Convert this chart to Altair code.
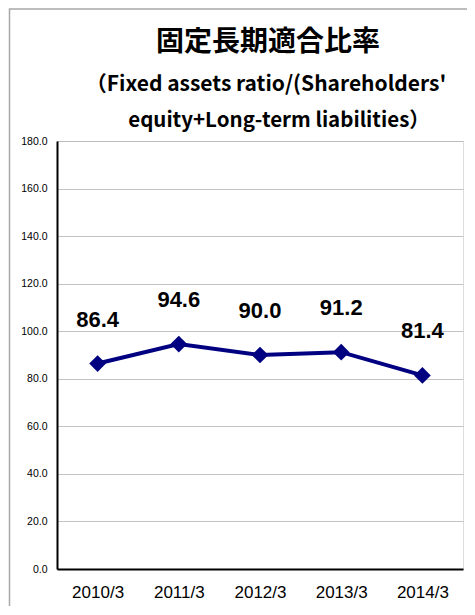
import altair as alt
import pandas as pd

PERIODS = ["2010/3", "2011/3", "2012/3", "2013/3", "2014/3"]
RATIOS = [86.4, 94.6, 90.0, 91.2, 81.4]
Y_TICKS = [0, 20, 40, 60, 80, 100, 120, 140, 160, 180]
TITLE = "固定長期適合比率"
SUBTITLE_LINES = ["（Fixed assets ratio/(Shareholders'", "equity+Long-term liabilities）"]

W, H = 406, 428
NAVY = "#000080"
SANS = "Liberation Sans, Arial, sans-serif"

df = pd.DataFrame({"period": PERIODS, "ratio": RATIOS})
one = pd.DataFrame({"k": [0]})

x = alt.X("period:N", sort=PERIODS, title=None,
          scale=alt.Scale(paddingInner=1, paddingOuter=0.5),
          axis=alt.Axis(labelAngle=0, labelFont=SANS, labelFontSize=17,
                        labelColor="#000", labelPadding=15, ticks=False,
                        domainColor="#000", domainWidth=2, grid=False))
y = alt.Y("ratio:Q", title=None,
          scale=alt.Scale(domain=[0, 180], nice=False, zero=True),
          axis=alt.Axis(values=Y_TICKS, format=".1f", labelFont=SANS,
                        labelFontSize=10.5, labelColor="#000", labelPadding=10, ticks=False,
                        domainColor="#000", domainWidth=2, grid=True,
                        gridColor="#b4b4b4", gridWidth=0.8))

frame = alt.Chart(one).mark_rect(fill=None, stroke="#a8a8a8", strokeWidth=1.5).encode(
    x=alt.value(-47.5), x2=alt.value(W + 30), y=alt.value(-132), y2=alt.value(H + 80))

line = alt.Chart(df).mark_line(color=NAVY, strokeWidth=4).encode(x=x, y=y)
pts = alt.Chart(df).mark_point(shape="diamond", filled=True, color=NAVY, size=280, opacity=1).encode(x=x, y=y)
labels = alt.Chart(df).mark_text(font=SANS, fontWeight="bold", fontSize=22,
                                 color="#000", dy=-44, baseline="middle").encode(
    x=x, y=y, text=alt.Text("ratio:Q", format=".1f"))

title = alt.Chart(one).mark_text(text=TITLE, font="Noto Sans CJK JP", fontWeight="bold",
                                 fontSize=28, color="#000", baseline="middle").encode(
    x=alt.value(211), y=alt.value(-98))
sub1 = alt.Chart(one).mark_text(text=SUBTITLE_LINES[0], font="Noto Sans CJK JP", fontWeight="bold",
                                fontSize=21, color="#000", baseline="middle").encode(
    x=alt.value(209), y=alt.value(-56))
sub2 = alt.Chart(one).mark_text(text=SUBTITLE_LINES[1], font="Noto Sans CJK JP", fontWeight="bold",
                                fontSize=20.5, color="#000", baseline="middle").encode(
    x=alt.value(222), y=alt.value(-20))

chart = alt.layer(frame, line, pts, labels, title, sub1, sub2).properties(
    width=W, height=H,
    autosize=alt.AutoSizeParams(type="none"),
    padding={"left": 49, "top": 133, "right": 4, "bottom": 37},
).configure_view(stroke="#8c8c8c", strokeWidth=1).configure(background="white")

chart.save("out.html", embed_options={"renderer": "svg", "actions": False})
